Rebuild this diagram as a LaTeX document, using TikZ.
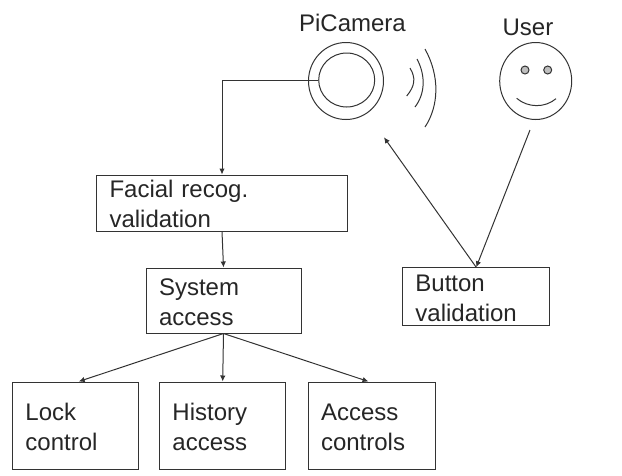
\documentclass[tikz,border=0pt]{standalone}
\usepackage{fontspec}
\setmainfont{Liberation Sans}
\usepackage{xcolor}
\usetikzlibrary{arrows.meta}
\usetikzlibrary{shapes.geometric}
\colorlet{inkline}{black!80}
\colorlet{inktext}{black!85}
\tikzstyle{flowhead}=[>/.tip={Latex[length=6pt,width=5.5pt]}]
\tikzstyle{flow} =[line width=1pt,color=inkline,flowhead,->]
\tikzstyle{stagebox}=[draw=inkline,line width=1pt,rectangle,align=left,inner xsep=13pt,inner ysep=0pt,text=inktext,font=\fontsize{24}{30}\selectfont,execute at begin node=\rule{0pt}{20pt}]
\tikzstyle{ring}=[draw=inkline,line width=1pt,ellipse,inner sep=0pt]
\tikzstyle{wave}=[line width=1pt,color=inkline]
\tikzstyle{title}=[text=inktext,anchor=base,inner sep=0pt,font=\fontsize{24}{30}\selectfont]
\begin{document}
\begin{tikzpicture}[x=1pt,y=-1pt]
	\useasboundingbox (0,0) rectangle (622,475);
	\node[title] (camlabel)  at (352.5,31.7) {PiCamera};
	\node[title] (userlabel) at (528,35)     {User};
	\node[ring,minimum width=75pt,minimum height=77pt] (camera) at (346,81) {};
	\node[ring,minimum width=56pt,minimum height=54pt] (lens)   at (346.7,80) {};
	\node[ring,minimum width=72pt,minimum height=77pt] (face)   at (535.7,81) {};
	\node[ring,fill=black!25,minimum width=8pt,minimum height=8pt] (lefteye)  at (525,70) {};
	\node[ring,fill=black!25,minimum width=8pt,minimum height=8pt] (righteye) at (547.7,70) {};
	\draw[wave] (516.7,98.3) .. controls (528,108) and (545,108) .. (556,98.7);
	\draw[wave] (406.7,96)   .. controls (415,86)  and (416,78)  .. (410,68);
	\draw[wave] (415,107)    .. controls (425,94)  and (426,76)  .. (417,59);
	\draw[wave] (425,127)    .. controls (439,106) and (440,76)  .. (425,49);
	\node[stagebox,minimum width=251pt,minimum height=56pt,text width=225pt]   (facial)  at (222,203)     {Facial recog.\\validation};
	\node[stagebox,minimum width=155pt,minimum height=65pt,text width=129pt]   (system)  at (223.5,300.5) {System\\access};
	\node[stagebox,minimum width=147.5pt,minimum height=57.5pt,text width=121.5pt] (button) at (476.2,296.5) {Button\\validation};
	\node[stagebox,minimum width=126.5pt,minimum height=87pt,text width=100.5pt] (lock)    at (75.7,425.5)  {Lock\\control};
	\node[stagebox,minimum width=126.5pt,minimum height=87pt,text width=100.5pt] (history) at (222.7,425.5) {History\\access};
	\node[stagebox,minimum width=127pt,minimum height=87pt,text width=101pt]     (access)  at (371.5,425.5) {Access\\controls};
	\coordinate (userfoot) at (530,130);
	\coordinate (camfoot)  at (384,137.3);
	\draw[flow] (lens.west) -| (facial.north);
	\draw[flow] (facial.south) -- (system.north);
	\draw[flow] (system.south) -- ([xshift=3pt]lock.north);
	\draw[flow] (system.south) -- (history.north);
	\draw[flow] (system.south) -- ([xshift=-3pt]access.north);
	\draw[flow] (userfoot) -- (button.north);
	\draw[flow] (button.north) -- (camfoot);
\end{tikzpicture}
\end{document}
